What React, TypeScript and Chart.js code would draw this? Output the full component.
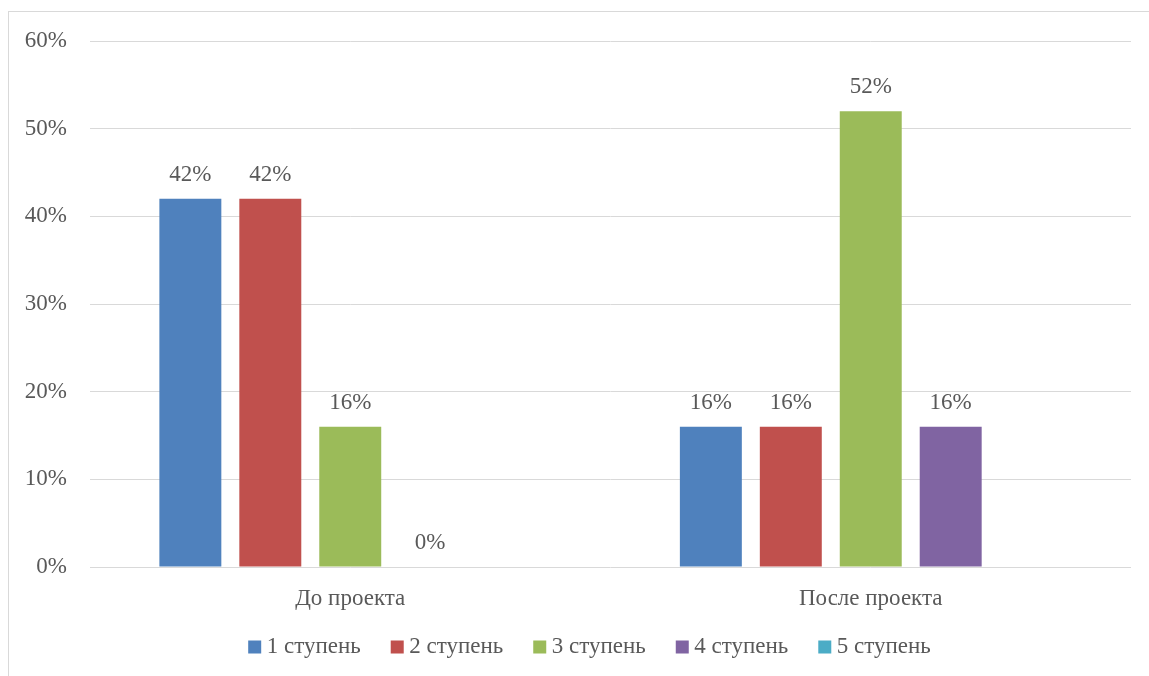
import React, { useEffect, useRef } from "react";
import { Chart, registerables } from "chart.js";

Chart.register(...registerables);

const categories = ["До проекта", "После проекта"];
const seriesNames = ["1 ступень", "2 ступень", "3 ступень", "4 ступень", "5 ступень"];
const step1 = [42, 16];
const step2 = [42, 16];
const step3 = [16, 52];
const step4 = [0, 16];
const step5: (number | null)[] = [null, null];
const colors = ["#4F81BD", "#C0504D", "#9BBB59", "#8064A2", "#4BACC6"];

const FONT = "'Liberation Serif', 'Times New Roman', serif";
const TEXT = "#595959";

const valueLabels = {
  id: "valueLabels",
  afterDatasetsDraw(chart: any) {
    const ctx = chart.ctx;
    ctx.save();
    ctx.font = `23px ${FONT}`;
    ctx.fillStyle = TEXT;
    ctx.textAlign = "center";
    ctx.textBaseline = "middle";
    chart.data.datasets.forEach((ds: any, i: number) => {
      const meta = chart.getDatasetMeta(i);
      meta.data.forEach((bar: any, j: number) => {
        const v = ds.data[j];
        if (v === null || v === undefined) return;
        ctx.fillText(v + "%", bar.x, bar.y - 24);
      });
    });
    ctx.restore();
  },
};

const customLegend = {
  id: "customLegend",
  afterDraw(chart: any) {
    const ctx = chart.ctx;
    ctx.save();
    ctx.font = `23px ${FONT}`;
    ctx.textBaseline = "middle";
    ctx.textAlign = "left";
    const box = 13;
    const gap = 5.5;
    const itemGap = 30;
    const items = chart.data.datasets.map((ds: any) => ({
      label: ds.label,
      color: ds.backgroundColor,
      w: box + gap + ctx.measureText(ds.label).width,
    }));
    const total =
      items.reduce((a: number, it: any) => a + it.w, 0) + itemGap * (items.length - 1);
    let x = 580.5 - total / 2;
    const cy = 635;
    items.forEach((it: any) => {
      ctx.fillStyle = it.color;
      ctx.fillRect(x, cy - box / 2, box, box);
      ctx.fillStyle = TEXT;
      ctx.fillText(it.label, x + box + gap, cy);
      x += it.w + itemGap;
    });
    ctx.restore();
  },
};

export default function App() {
  const ref = useRef<HTMLCanvasElement>(null);
  useEffect(() => {
    if (!ref.current) return;
    const all = [step1, step2, step3, step4, step5];
    const chart = new Chart(ref.current, {
      type: "bar",
      data: {
        labels: categories,
        datasets: all.map((d, i) => ({
          label: seriesNames[i],
          data: d,
          backgroundColor: colors[i],
          borderWidth: 0,
          categoryPercentage: 0.768,
          barPercentage: 0.775,
        })),
      },
      options: {
        animation: false,
        responsive: false,
        layout: { padding: { left: 0, right: 18, top: 29, bottom: 50.5 } },
        plugins: {
          legend: { display: false },
          tooltip: { enabled: false },
        },
        scales: {
          x: {
            grid: { display: false, drawTicks: false },
            border: { display: false },
            ticks: { color: TEXT, font: { family: FONT, size: 23 }, padding: 18 },
            afterFit: (s: any) => {
              s.height = 58.5;
              s.paddingLeft = 0;
              s.paddingRight = 0;
            },
          },
          y: {
            min: 0,
            max: 60,
            ticks: {
              stepSize: 10,
              color: TEXT,
              font: { family: FONT, size: 23 },
              padding: 23,
              callback: (v: any) => v + "%",
            },
            grid: { color: "#d9d9d9", lineWidth: 1, drawTicks: false },
            border: { display: false },
            afterFit: (s: any) => {
              s.width = 81;
              s.paddingTop = 0;
              s.paddingBottom = 0;
            },
          },
        },
      },
      plugins: [valueLabels, customLegend],
    });
    return () => chart.destroy();
  }, []);
  return (
    <div
      style={{
        position: "fixed",
        left: 8,
        top: 11,
        right: 0,
        bottom: 0,
        borderLeft: "1px solid #d9d9d9",
        borderTop: "1px solid #d9d9d9",
        background: "#fff",
      }}
    >
      <canvas ref={ref} width={1140} height={664} style={{ display: "block" }} />
    </div>
  );
}
